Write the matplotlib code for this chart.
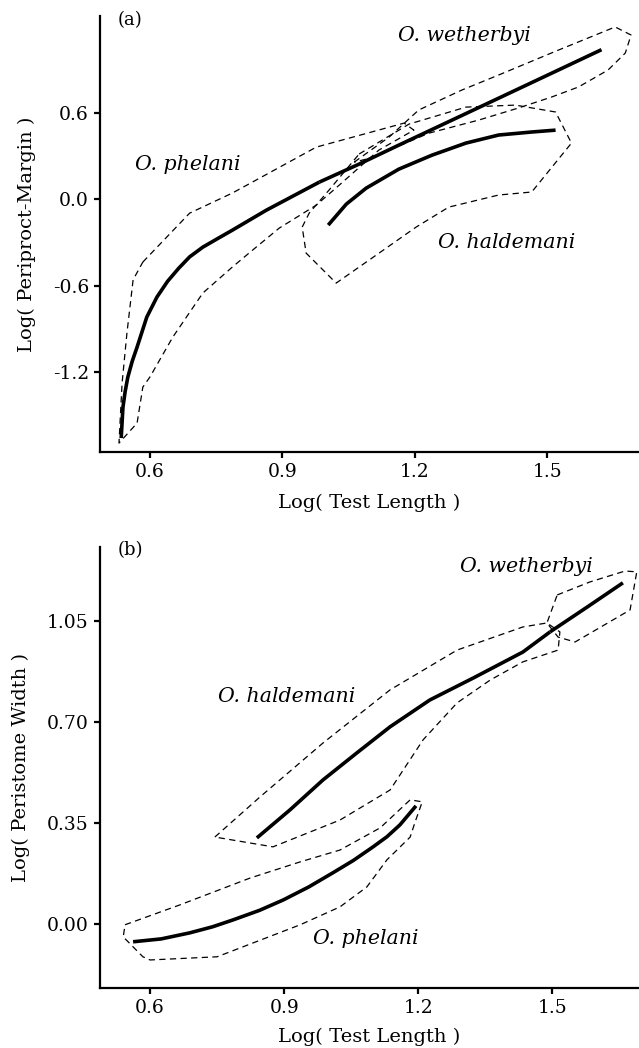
import matplotlib
matplotlib.use('Agg')
import matplotlib.pyplot as plt

plt.rcParams['font.family'] = ['DejaVu Serif']

# ---- panel (a): Log(Periproct-Margin) vs Log(Test Length)
a_phelani_x = [0.535, 0.537, 0.539, 0.544, 0.550, 0.560, 0.571, 0.593, 0.616, 0.640, 0.665, 0.690,
               0.720, 0.755, 0.787, 0.864, 0.984]
a_phelani_y = [-1.659, -1.550, -1.444, -1.335, -1.236, -1.125, -1.027, -0.818, -0.679, -0.570, -0.480, -0.400,
               -0.332, -0.270, -0.214, -0.075, 0.120]
a_wetherbyi_x = [0.984, 1.074, 1.164, 1.390, 1.623]
a_wetherbyi_y = [0.120, 0.245, 0.377, 0.703, 1.040]
a_haldemani_x = [1.004, 1.045, 1.090, 1.164, 1.239, 1.316, 1.390, 1.465, 1.519]
a_haldemani_y = [-0.179, -0.033, 0.078, 0.210, 0.307, 0.391, 0.447, 0.468, 0.481]

a_phelani_env_x = [0.584, 0.690, 0.787, 0.977, 1.176, 1.198, 1.119, 1.029, 0.977, 0.893, 0.833, 0.787,
                   0.720, 0.652, 0.600, 0.584, 0.571, 0.530, 0.537, 0.548, 0.562, 0.584]
a_phelani_env_y = [-0.436, -0.096, 0.044, 0.363, 0.530, 0.481, 0.343, 0.099, -0.040, -0.200, -0.352, -0.470,
                   -0.651, -0.957, -1.235, -1.305, -1.555, -1.694, -1.278, -0.930, -0.559, -0.436]
a_haldemani_env_x = [1.074, 1.187, 1.316, 1.428, 1.519, 1.555, 1.465, 1.390, 1.277, 1.203, 1.119, 1.022,
                     0.954, 0.945, 0.961, 1.006, 1.074]
a_haldemani_env_y = [0.315, 0.523, 0.641, 0.655, 0.607, 0.391, 0.051, 0.030, -0.054, -0.193, -0.374, -0.582,
                     -0.374, -0.193, -0.095, 0.065, 0.315]
a_wetherbyi_env_x = [1.063, 1.142, 1.209, 1.307, 1.390, 1.526, 1.654, 1.690, 1.677, 1.638, 1.571, 1.510,
                     1.435, 1.345, 1.232, 1.158, 1.108, 1.063]
a_wetherbyi_env_y = [0.259, 0.433, 0.621, 0.760, 0.864, 1.038, 1.198, 1.142, 1.017, 0.899, 0.781, 0.711,
                     0.635, 0.551, 0.460, 0.363, 0.293, 0.259]

# ---- panel (b): Log(Peristome Width) vs Log(Test Length)
b_phelani_x = [0.562, 0.625, 0.689, 0.740, 0.786, 0.845, 0.898, 0.955, 1.009, 1.055, 1.099, 1.130, 1.159, 1.195]
b_phelani_y = [-0.062, -0.052, -0.031, -0.010, 0.014, 0.047, 0.083, 0.128, 0.177, 0.220, 0.267, 0.302, 0.343, 0.409]
b_haldemani_x = [0.839, 0.913, 0.987, 1.063, 1.137, 1.226, 1.323, 1.434, 1.495]
b_haldemani_y = [0.298, 0.395, 0.499, 0.593, 0.683, 0.776, 0.852, 0.942, 1.012]
b_wetherbyi_x = [1.495, 1.578, 1.658]
b_wetherbyi_y = [1.012, 1.098, 1.182]

b_phelani_env_x = [0.544, 0.667, 0.824, 0.936, 1.025, 1.115, 1.182, 1.209, 1.193, 1.182, 1.130, 1.085,
                   1.025, 0.936, 0.750, 0.600, 0.584, 0.540, 0.544]
b_phelani_env_y = [-0.003, 0.066, 0.159, 0.215, 0.256, 0.333, 0.430, 0.423, 0.353, 0.301, 0.222, 0.128,
                   0.059, -0.003, -0.114, -0.125, -0.114, -0.045, -0.003]
b_haldemani_env_x = [0.745, 0.846, 0.987, 1.137, 1.287, 1.434, 1.488, 1.517, 1.513, 1.434, 1.361, 1.287,
                     1.211, 1.137, 1.025, 0.875, 0.745]
b_haldemani_env_y = [0.301, 0.440, 0.627, 0.811, 0.949, 1.029, 1.043, 1.012, 0.949, 0.908, 0.845, 0.766,
                     0.638, 0.464, 0.360, 0.267, 0.301]
b_wetherbyi_env_x = [1.511, 1.584, 1.663, 1.689, 1.674, 1.551, 1.513, 1.488, 1.511]
b_wetherbyi_env_y = [1.140, 1.185, 1.223, 1.220, 1.088, 0.977, 0.994, 1.043, 1.140]

a_xticks = [0.6, 0.9, 1.2, 1.5]
a_yticks = [-1.2, -0.6, 0.0, 0.6]
b_xticks = [0.6, 0.9, 1.2, 1.5]
b_yticks = [0.00, 0.35, 0.70, 1.05]


def style_axes(ax):
    for side in ['top', 'right']:
        ax.spines[side].set_visible(False)
    for side in ['left', 'bottom']:
        ax.spines[side].set_linewidth(1.6)
    ax.tick_params(direction='out', length=4, width=1.6, labelsize=13.5, pad=4)


fig = plt.figure(figsize=(6.39, 10.48), dpi=100)

solid = dict(color='black', linewidth=2.6, solid_capstyle='butt', solid_joinstyle='round')
dash = dict(color='black', linewidth=0.9, linestyle=(0, (5, 3.5)))
label_fs = 14
species_fs = 14.8

# 面板 (a)
ax1 = fig.add_axes([0.1565, 0.5687, 0.8435, 0.416])
ax1.plot(a_phelani_x, a_phelani_y, **solid)
ax1.plot(a_wetherbyi_x, a_wetherbyi_y, **solid)
ax1.plot(a_haldemani_x, a_haldemani_y, **solid)
ax1.plot(a_phelani_env_x, a_phelani_env_y, **dash)
ax1.plot(a_haldemani_env_x, a_haldemani_env_y, **dash)
ax1.plot(a_wetherbyi_env_x, a_wetherbyi_env_y, **dash)
ax1.set_xlim(0.487, 1.708)
ax1.set_ylim(-1.756, 1.274)
ax1.set_xticks(a_xticks)
ax1.set_xticklabels([f'{v:.1f}' for v in a_xticks])
ax1.set_yticks(a_yticks)
ax1.set_yticklabels([f'{v:.1f}' for v in a_yticks])
style_axes(ax1)
ax1.set_xlabel('Log( Test Length )', fontsize=label_fs, labelpad=9)
ax1.set_ylabel('Log( Periproct-Margin )', fontsize=label_fs, labelpad=12)
ax1.text(0.555, 1.246, '(a)', fontsize=13, ha='center', va='center')
ax1.text(0.686, 0.245, 'O. phelani', fontsize=species_fs, style='italic', ha='center', va='center')
ax1.text(1.313, 1.142, 'O. wetherbyi', fontsize=species_fs, style='italic', ha='center', va='center')
ax1.text(1.408, -0.297, 'O. haldemani', fontsize=species_fs, style='italic', ha='center', va='center')

# 面板 (b)
ax2 = fig.add_axes([0.1565, 0.0573, 0.8435, 0.4207])
ax2.plot(b_phelani_x, b_phelani_y, **solid)
ax2.plot(b_haldemani_x, b_haldemani_y, **solid)
ax2.plot(b_wetherbyi_x, b_wetherbyi_y, **solid)
ax2.plot(b_phelani_env_x, b_phelani_env_y, **dash)
ax2.plot(b_haldemani_env_x, b_haldemani_env_y, **dash)
ax2.plot(b_wetherbyi_env_x, b_wetherbyi_env_y, **dash)
ax2.set_xlim(0.488, 1.694)
ax2.set_ylim(-0.222, 1.306)
ax2.set_xticks(b_xticks)
ax2.set_xticklabels([f'{v:.1f}' for v in b_xticks])
ax2.set_yticks(b_yticks)
ax2.set_yticklabels([f'{v:.2f}' for v in b_yticks])
style_axes(ax2)
ax2.set_xlabel('Log( Test Length )', fontsize=label_fs, labelpad=8)
ax2.set_ylabel('Log( Peristome Width )', fontsize=label_fs, labelpad=12)
ax2.text(0.555, 1.296, '(b)', fontsize=13, ha='center', va='center')
ax2.text(0.906, 0.787, 'O. haldemani', fontsize=species_fs, style='italic', ha='center', va='center')
ax2.text(1.443, 1.237, 'O. wetherbyi', fontsize=species_fs, style='italic', ha='center', va='center')
ax2.text(1.083, -0.049, 'O. phelani', fontsize=species_fs, style='italic', ha='center', va='center')

fig.savefig('out.png', dpi=100)
plt.close(fig)
